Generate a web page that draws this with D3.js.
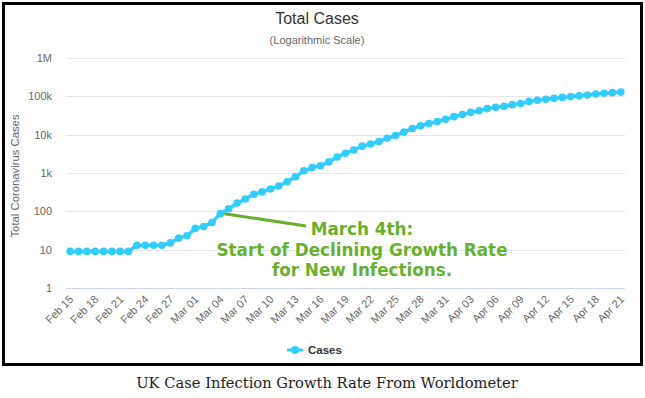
<!DOCTYPE html>
<html>
<head>
<meta charset="utf-8">
<script src="https://cdn.jsdelivr.net/npm/d3@7"></script>
<style>
  body { margin: 0; background: #fff; }
  svg { display: block; }
</style>
</head>
<body>
<svg id="chart" width="645" height="398"></svg>
<script>
// Chart data (UK total cases, Worldometer)
var dates = [
  'Feb 15','Feb 16','Feb 17','Feb 18','Feb 19','Feb 20','Feb 21','Feb 22','Feb 23','Feb 24',
  'Feb 25','Feb 26','Feb 27','Feb 28','Feb 29','Mar 01','Mar 02','Mar 03','Mar 04','Mar 05',
  'Mar 06','Mar 07','Mar 08','Mar 09','Mar 10','Mar 11','Mar 12','Mar 13','Mar 14','Mar 15',
  'Mar 16','Mar 17','Mar 18','Mar 19','Mar 20','Mar 21','Mar 22','Mar 23','Mar 24','Mar 25',
  'Mar 26','Mar 27','Mar 28','Mar 29','Mar 30','Mar 31','Apr 01','Apr 02','Apr 03','Apr 04',
  'Apr 05','Apr 06','Apr 07','Apr 08','Apr 09','Apr 10','Apr 11','Apr 12','Apr 13','Apr 14',
  'Apr 15','Apr 16','Apr 17','Apr 18','Apr 19','Apr 20','Apr 21'
];
var cases = [
  9, 9, 9, 9, 9, 9, 9, 9, 13, 13,
  13, 13, 15, 20, 23, 36, 40, 51, 87, 116,
  164, 209, 278, 321, 383, 460, 590, 798, 1140, 1391,
  1543, 1950, 2626, 3269, 3983, 5018, 5683, 6650, 8077, 9529,
  11658, 14543, 17089, 19522, 22141, 25150, 29474, 33718, 38168, 41903,
  47806, 51608, 55242, 60733, 65077, 73758, 78991, 84279, 88621, 93873,
  98476, 103093, 108692, 114217, 120067, 124743, 129044
];
var yTicks = [1, 10, 100, 1000, 10000, 100000, 1000000];
var yTickLabels = ['1', '10', '100', '1k', '10k', '100k', '1M'];
var noteLines = ['March 4th:', 'Start of Declining Growth Rate', 'for New Infections.'];
var noteDate = 'Mar 04';

var svg = d3.select('#chart');
var plotLeft = 66, plotRight = 625, plotTop = 58, plotBottom = 288;

// outer frame
svg.append('rect')
    .attr('x', 3.5).attr('y', 3.5)
    .attr('width', 638).attr('height', 361)
    .attr('fill', 'none')
    .attr('stroke', '#000')
    .attr('stroke-width', 3);

var x = d3.scalePoint()
    .domain(dates)
    .range([plotLeft, plotRight])
    .padding(0.5);

var y = d3.scaleLog()
    .domain([1, 1000000])
    .range([plotBottom, plotTop]);

// grid lines
svg.append('g')
    .selectAll('line')
    .data(yTicks.slice(1))
    .enter()
    .append('line')
    .attr('x1', plotLeft).attr('x2', plotRight)
    .attr('y1', function(d) { return Math.round(y(d)) + 0.5; })
    .attr('y2', function(d) { return Math.round(y(d)) + 0.5; })
    .attr('stroke', '#e6e6e6');

// x axis line
svg.append('line')
    .attr('x1', plotLeft).attr('x2', plotRight)
    .attr('y1', plotBottom + 0.5).attr('y2', plotBottom + 0.5)
    .attr('stroke', '#ccd6eb');

// y axis labels
svg.append('g')
    .selectAll('text')
    .data(yTicks)
    .enter()
    .append('text')
    .attr('x', 52)
    .attr('y', function(d) { return y(d) + 4; })
    .attr('text-anchor', 'end')
    .attr('font-family', 'Liberation Sans, Arial, sans-serif')
    .attr('font-size', 11)
    .attr('fill', '#666')
    .text(function(d, i) { return yTickLabels[i]; });

// y axis title
svg.append('text')
    .attr('transform', 'translate(19,176) rotate(-90)')
    .attr('text-anchor', 'middle')
    .attr('font-family', 'Liberation Sans, Arial, sans-serif')
    .attr('font-size', 11.3)
    .attr('fill', '#666')
    .text('Total Coronavirus Cases');

// x axis labels, every third day
var labelDates = dates.filter(function(d, i) { return i % 3 === 0; });
svg.append('g')
    .selectAll('text')
    .data(labelDates)
    .enter()
    .append('text')
    .attr('transform', function(d) {
        return 'translate(' + (x(d) + 4) + ',' + (plotBottom + 12) + ') rotate(-45)';
    })
    .attr('text-anchor', 'end')
    .attr('font-family', 'Liberation Sans, Arial, sans-serif')
    .attr('font-size', 11)
    .attr('fill', '#666')
    .text(function(d) { return d; });

// series line
var line = d3.line()
    .x(function(d, i) { return x(dates[i]); })
    .y(function(d) { return y(d); });

svg.append('path')
    .datum(cases)
    .attr('d', line)
    .attr('fill', 'none')
    .attr('stroke', '#33ccff')
    .attr('stroke-width', 3.5)
    .attr('stroke-linejoin', 'round');

svg.append('g')
    .selectAll('circle')
    .data(cases)
    .enter()
    .append('circle')
    .attr('cx', function(d, i) { return x(dates[i]); })
    .attr('cy', function(d) { return y(d); })
    .attr('r', 3.8)
    .attr('fill', '#33ccff');

// annotation
var noteIdx = dates.indexOf(noteDate);
var green = '#68b030';
svg.append('line')
    .attr('x1', x(noteDate) + 4)
    .attr('y1', y(cases[noteIdx]))
    .attr('x2', 306).attr('y2', 226)
    .attr('stroke', green)
    .attr('stroke-width', 3);

svg.append('g')
    .selectAll('text')
    .data(noteLines)
    .enter()
    .append('text')
    .attr('x', 362)
    .attr('y', function(d, i) { return 235 + i * 20.5; })
    .attr('text-anchor', 'middle')
    .attr('font-family', 'DejaVu Sans, Verdana, sans-serif')
    .attr('font-weight', 'bold')
    .attr('font-size', 16.8)
    .attr('fill', green)
    .text(function(d) { return d; });

// title and subtitle
svg.append('text')
    .attr('x', 317).attr('y', 24)
    .attr('text-anchor', 'middle')
    .attr('font-family', 'Liberation Sans, Arial, sans-serif')
    .attr('font-size', 16)
    .attr('fill', '#333')
    .text('Total Cases');

svg.append('text')
    .attr('x', 317).attr('y', 44)
    .attr('text-anchor', 'middle')
    .attr('font-family', 'Liberation Sans, Arial, sans-serif')
    .attr('font-size', 11)
    .attr('fill', '#666')
    .text('(Logarithmic Scale)');

// legend
var legend = svg.append('g').attr('transform', 'translate(287,350)');
legend.append('line')
    .attr('x1', 0).attr('x2', 16)
    .attr('y1', 0).attr('y2', 0)
    .attr('stroke', '#33ccff')
    .attr('stroke-width', 3);
legend.append('circle')
    .attr('cx', 8).attr('cy', 0).attr('r', 4)
    .attr('fill', '#33ccff');
legend.append('text')
    .attr('x', 21).attr('y', 4)
    .attr('font-family', 'Liberation Sans, Arial, sans-serif')
    .attr('font-size', 11.5)
    .attr('font-weight', 'bold')
    .attr('fill', '#333')
    .text('Cases');

// caption under the frame
svg.append('text')
    .attr('x', 327).attr('y', 388)
    .attr('text-anchor', 'middle')
    .attr('font-family', 'DejaVu Serif, Georgia, serif')
    .attr('font-size', 14.7)
    .attr('fill', '#222')
    .text('UK Case Infection Growth Rate From Worldometer');
</script>
</body>
</html>
